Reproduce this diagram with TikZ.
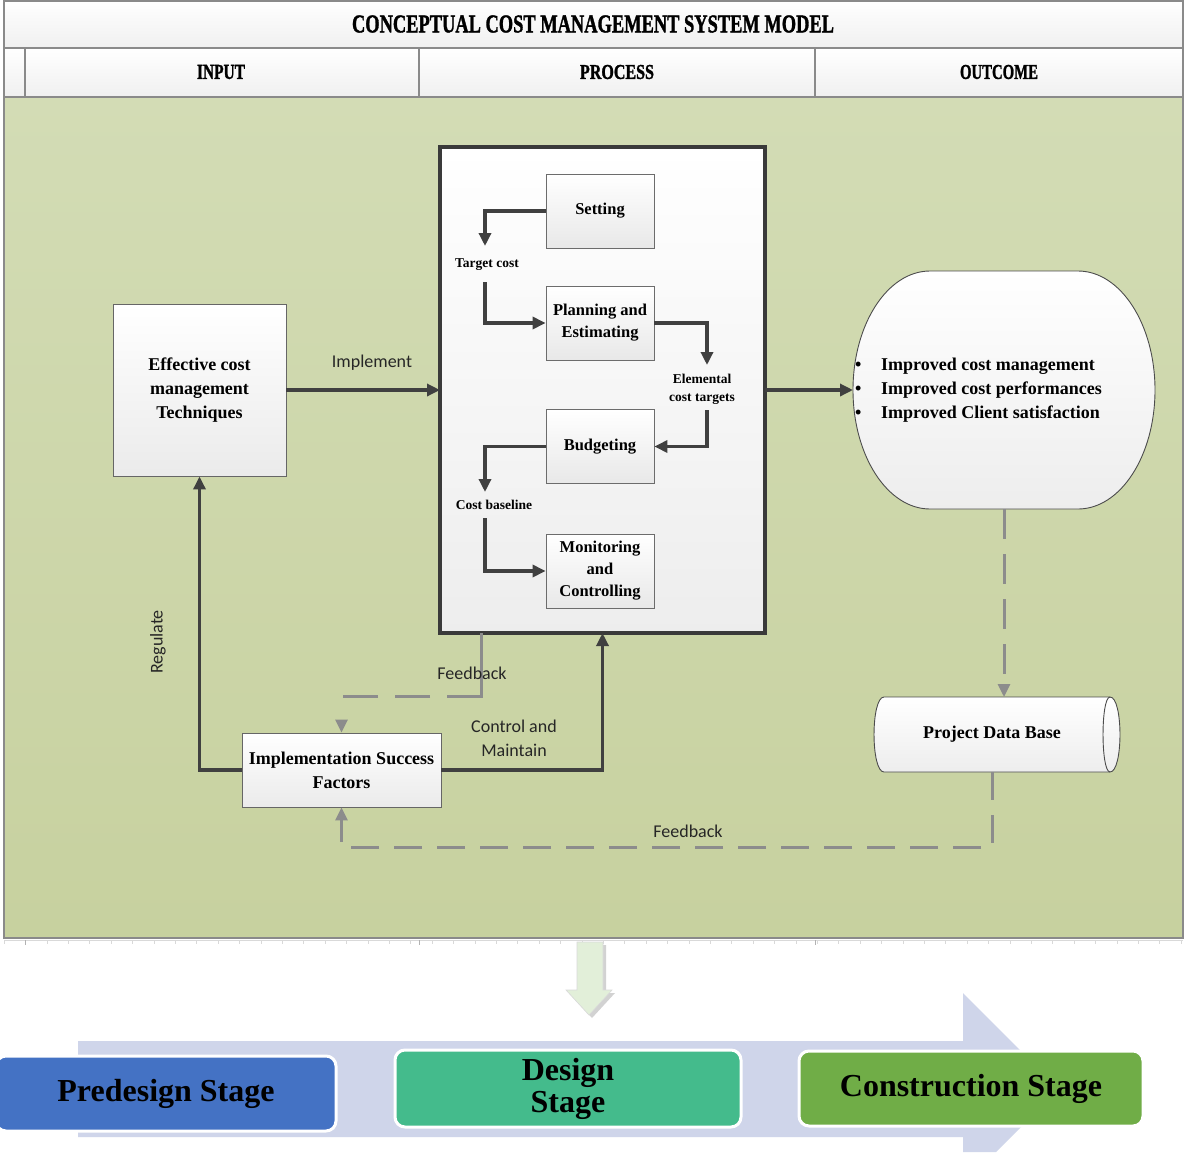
\documentclass[tikz,border=0pt]{standalone}
\usepackage{graphicx}
\usepackage{fontspec}
\setmainfont{Liberation Serif}
\newfontfamily\labelfont{Carlito}
\newfontfamily\headfont{Liberation Serif}[BoldFeatures={FakeBold=1.6}]
\usetikzlibrary{arrows.meta,shadows,calc}

\definecolor{arrowgray}{HTML}{404040}
\definecolor{dashgray}{HTML}{8C8C8C}
\definecolor{framegray}{HTML}{8A8A8A}
\definecolor{fieldtop}{HTML}{D3DCB5}
\definecolor{fieldbot}{HTML}{C7D19F}
\definecolor{bandblue}{HTML}{CFD5EA}
\definecolor{predesign}{HTML}{4472C4}
\definecolor{designc}{HTML}{44BB8C}
\definecolor{constr}{HTML}{70AD47}
\definecolor{downarrow}{HTML}{E2EFD9}

\begin{document}
\begin{tikzpicture}[x=1pt,y=-1pt,
  darr/.style={draw=arrowgray, line width=3.5pt, -{Triangle[length=13pt,width=12pt]}},
  garr/.style={draw=dashgray, line width=3pt, -{Triangle[length=13pt,width=12pt]}},
  stepbox/.style={draw=gray!85!black, line width=0.8pt, top color=white, bottom color=black!9,
    minimum width=108pt, minimum height=74pt, align=center, inner sep=2pt,
    font=\fontsize{16.5}{22}\selectfont\bfseries},
  bigbox/.style={draw=gray!80!black, line width=0.9pt, top color=white, bottom color=black!8,
    align=center, inner sep=2pt, font=\fontsize{18}{24}\selectfont\bfseries},
  smalllbl/.style={align=center, inner sep=1pt, font=\fontsize{13.5}{18}\selectfont\bfseries},
  lbl/.style={align=center, inner sep=1pt, text=black!85, font=\labelfont\fontsize{18}{24}\selectfont},
  hcell/.style={draw=framegray, line width=1.2pt, top color=white, bottom color=black!6},
  stagebox/.style={draw=white, line width=3pt, rounded corners=10pt, align=center, inner sep=0pt,
    font=\fontsize{32}{32}\selectfont\bfseries}
]
\useasboundingbox (0,0) rectangle (1184,1152);
\fill[white] (0,0) rectangle (1184,1152);

% ---- heading rows ----
\path[hcell] (4,1) rectangle (1183,48);
\node (title) at (593,24) {\resizebox{482pt}{17pt}{\headfont\bfseries CONCEPTUAL COST MANAGEMENT SYSTEM MODEL}};
\path[hcell] (4,48) rectangle (25,97);
\path[hcell] (25,48) rectangle (419,97);
\path[hcell] (419,48) rectangle (815,97);
\path[hcell] (815,48) rectangle (1183,97);
\node (hin) at (221,72) {\resizebox{48pt}{14pt}{\headfont\bfseries INPUT}};
\node (hproc) at (617,72) {\resizebox{74pt}{14pt}{\headfont\bfseries PROCESS}};
\node (hout) at (999,72) {\resizebox{78pt}{14pt}{\headfont\bfseries OUTCOME}};

% ---- green field ----
\path[top color=fieldtop, bottom color=fieldbot, draw=framegray, line width=1.2pt] (4,97) rectangle (1183,938);
\draw[gray!30, line width=0.6pt] (4,940) -- (1183,940);
\foreach \t in {0,...,55} \draw[gray!30, line width=0.5pt] ({4+21.4*\t},940) -- ++(0,4);
\foreach \t in {25,419,815} \draw[gray!60, line width=0.8pt] (\t,940) -- ++(0,5);

% ---- process block ----
\node[draw=arrowgray!90!black, line width=3.5pt, top color=white, bottom color=black!7,
      minimum width=325pt, minimum height=486pt, outer sep=0pt, inner sep=0pt] (proc) at (602.5,390) {};

\node[stepbox] (setting) at (600,211) {Setting};
\node[stepbox] (plan) at (600,323) {Planning and\\Estimating};
\node[stepbox] (budget) at (600,446.5) {Budgeting};
\node[stepbox] (mon) at (600,571) {Monitoring\\and\\Controlling};

\node[smalllbl] (tc) at (487,265) {Target cost};
\node[smalllbl] (etl) at (702,389) {Elemental\\cost targets};
\node[smalllbl] (cb) at (494,505) {Cost baseline};

\coordinate (tcin) at (485,246);
\coordinate (tcout) at (485,282);
\coordinate (etin) at (707,365);
\coordinate (etout) at (707,410);
\coordinate (cbin) at (485,492);
\coordinate (cbout) at (485,518);

\draw[darr] (setting.west) -| (tcin);
\draw[darr] (tcout) |- (plan.west);
\draw[darr] (plan.east) -| (etin);
\draw[darr] (etout) |- (budget.east);
\draw[darr] (budget.west) -| (cbin);
\draw[darr] (cbout) |- (mon.west);

% ---- input and success factors ----
\node[bigbox, minimum width=173pt, minimum height=172pt] (ect) at (199.5,390) {Effective cost\\management\\Techniques};
\node[bigbox, minimum width=199pt, minimum height=74pt] (isf) at (341.5,770) {Implementation Success\\Factors};

\draw[darr] (ect.east) -- (proc.west);
\node[lbl] (implbl) at (372,363) {Implement};

% ---- outcome ----
\node[minimum width=302pt, minimum height=238pt, inner sep=0pt, outer sep=0pt] (outc) at (1004,390) {};
\path[draw=gray!60!black, line width=0.9pt, top color=white, bottom color=black!7]
  (930,271) -- (1078,271)
  .. controls (1120.5,271) and (1155,324.3) .. (1155,390)
  .. controls (1155,455.7) and (1120.5,509) .. (1078,509)
  -- (930,509)
  .. controls (887.5,509) and (853,455.7) .. (853,390)
  .. controls (853,324.3) and (887.5,271) .. (930,271) -- cycle;
\node[anchor=west, align=left, inner sep=0pt, font=\fontsize{18}{24}\selectfont\bfseries] (outtext) at (853,390)
  {\makebox[28pt][l]{\hspace{2pt}\textbullet}Improved cost management\\
   \makebox[28pt][l]{\hspace{2pt}\textbullet}Improved cost performances\\
   \makebox[28pt][l]{\hspace{2pt}\textbullet}Improved Client satisfaction};
\draw[darr] (proc.east) -- (outc.west);

% ---- project data base ----
\node[minimum width=236pt, minimum height=75pt, inner sep=0pt, outer sep=0pt] (pdb) at (992,734.5) {};
\path[draw=gray!60!black, line width=0.9pt, top color=white, bottom color=black!7]
  (884,697) -- (1110,697) .. controls (1123.3,697) and (1123.3,772) .. (1110,772)
  -- (884,772) .. controls (870.7,772) and (870.7,697) .. (884,697) -- cycle;
\draw[gray!60!black, line width=0.9pt] (1110,697) .. controls (1100.7,697) and (1100.7,772) .. (1110,772);
\node[font=\fontsize{18}{24}\selectfont\bfseries] (pdbtext) at (pdb) {Project Data Base};

\draw[garr, dash pattern=on 30pt off 15pt] (outc.south) -- (outc.south |- pdb.north);

% ---- feedback and control loops ----
\draw[garr, dash pattern=on 28pt off 15pt] (pdb.south) -- ++(0,75) -| (isf.south);
\node[lbl] (fb2) at (688,831) {Feedback};

\draw[garr, dash pattern=on 97pt off 17pt on 35pt off 17pt on 35pt off 40pt]
  ([xshift=-121.5pt]proc.south) -- ++(0,63) -| (isf.north);
\node[lbl] (fb1) at (472,673) {Feedback};

\draw[darr] (isf.west) -| (ect.south);
\node[lbl, rotate=90] (reg) at (158,642) {Regulate};

\draw[darr] (isf.east) -| (proc.south);
\node[lbl] (cm) at (514,738) {Control and\\Maintain};

% ---- stage timeline ----
\path[fill=downarrow, draw=black!15, line width=0.6pt,
      drop shadow={shadow xshift=3pt, shadow yshift=-3pt, opacity=0.35}]
  (577,942) -- (603,942) -- (603,990) -- (612,990) -- (589,1015) -- (566,990) -- (577,990) -- cycle;

\fill[bandblue] (78,1041) -- (963,1041) -- (963,993) -- (1059,1089) -- (996,1152)
  -- (963,1152) -- (963,1137) -- (78,1137) -- cycle;

\node[stagebox, fill=predesign, minimum width=340pt, minimum height=75pt] (pre) at (166,1093.5) {Predesign Stage};
\node[stagebox, fill=designc, minimum width=346pt, minimum height=77pt] (des) at (568,1088.5) {Design\\Stage};
\node[stagebox, fill=constr, minimum width=344pt, minimum height=75pt] (con) at (971,1088.5) {Construction Stage};
\end{tikzpicture}
\end{document}
